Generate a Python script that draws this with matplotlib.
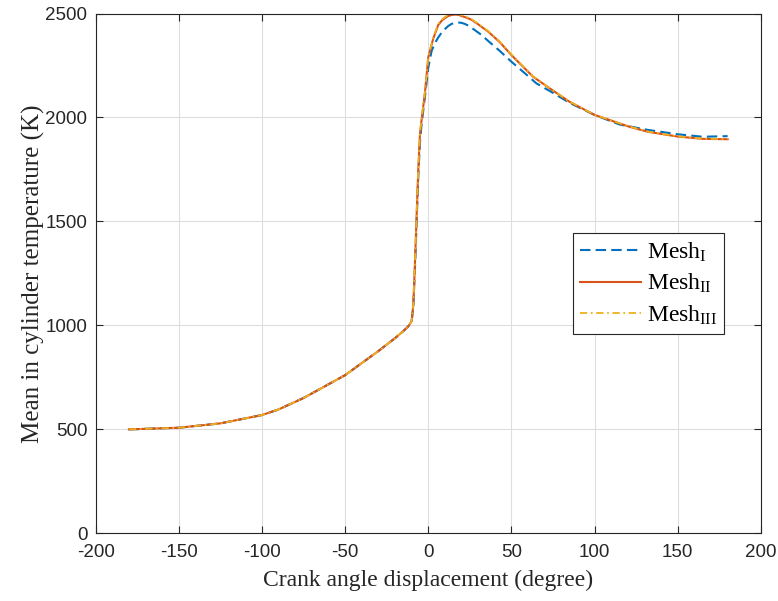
import matplotlib
matplotlib.use("Agg")
import matplotlib.pyplot as plt

# --- data ---
angle_1 = [-180, -150, -125, -100, -90, -75, -50, -30, -20, -15, -12, -10, -9, -8, -7, -6, -5, -4,
           -2, 0, 2, 4, 6, 8, 10, 12, 14, 16, 18, 20, 22, 25, 28, 32, 36, 43, 50, 57, 65, 75, 85, 100,
           115, 132, 150, 165, 180]
temp_1 = [499, 507, 528, 568, 595, 650, 760, 876, 938, 972, 995, 1020, 1090, 1280, 1500, 1720, 1880, 1970,
          2100, 2240, 2320, 2358, 2385, 2408, 2425, 2440, 2450, 2455, 2457, 2455, 2450, 2438, 2420, 2397,
          2368, 2320, 2268, 2220, 2164, 2118, 2070, 2012, 1966, 1940, 1919, 1907, 1910]

angle_2 = [-180, -150, -125, -100, -90, -75, -50, -30, -20, -15, -12, -10, -9, -8, -7, -6, -5, -4,
           -2, 0, 3, 6, 8, 10, 12, 14, 16, 18, 20, 23, 26, 30, 36, 43, 50, 57, 63, 73, 85, 100, 121,
           132, 150, 165, 180]
temp_2 = [499, 507, 528, 568, 595, 650, 760, 876, 938, 972, 995, 1020, 1100, 1300, 1530, 1750, 1920, 1990,
          2120, 2290, 2380, 2445, 2465, 2478, 2488, 2493, 2495, 2494, 2488, 2480, 2470, 2448, 2413, 2362,
          2300, 2244, 2196, 2140, 2075, 2012, 1955, 1931, 1908, 1897, 1895]

angle_3 = [-180, -150, -125, -100, -90, -75, -50, -30, -20, -15, -12, -10, -9, -8, -7, -6, -5, -4,
           -2, 0, 3, 6, 8, 10, 12, 14, 16, 18, 20, 23, 26, 30, 36, 43, 50, 57, 63, 73, 85, 100, 121,
           132, 150, 165, 180]
temp_3 = [499, 507, 528, 568, 595, 650, 760, 876, 938, 972, 995, 1020, 1105, 1310, 1540, 1760, 1925, 1995,
          2125, 2295, 2385, 2450, 2470, 2483, 2493, 2498, 2500, 2498, 2492, 2483, 2473, 2451, 2416, 2365,
          2303, 2246, 2198, 2141, 2076, 2013, 1956, 1932, 1909, 1898, 1896]

labels = ["Mesh$_{\\mathrm{I}}$", "Mesh$_{\\mathrm{II}}$", "Mesh$_{\\mathrm{III}}$"]

plt.rcParams["mathtext.fontset"] = "custom"
plt.rcParams["mathtext.rm"] = "Liberation Serif"
plt.rcParams["mathtext.it"] = "Liberation Serif:italic"
plt.rcParams["axes.unicode_minus"] = False

fig = plt.figure(figsize=(7.78, 6.01), dpi=100)
ax = fig.add_axes([0.123, 0.113, 0.855, 0.8645])

ax.plot(angle_1, temp_1, color="#0072BD", lw=1.5, ls=(0, (5, 2.5)), label=labels[0])
ax.plot(angle_2, temp_2, color="#D95319", lw=1.5, ls="-", label=labels[1])
ax.plot(angle_3, temp_3, color="#EDB120", lw=1.3, ls=(0, (4, 2, 1, 2)), label=labels[2])

ax.set_xlim(-200, 200)
ax.set_ylim(0, 2500)
ax.set_xticks(range(-200, 201, 50))
ax.set_yticks(range(0, 2501, 500))
ax.grid(True, color="#dedede", lw=0.8)
ax.set_axisbelow(True)
ax.tick_params(direction="in", top=True, right=True, length=5, width=0.8,
               colors="#262626", labelsize=13.5)
ax.tick_params(axis="x", pad=8)
ax.tick_params(axis="y", pad=6)
for lbl in ax.get_xticklabels() + ax.get_yticklabels():
    lbl.set_family("Liberation Sans")
for sp in ax.spines.values():
    sp.set_color("#262626")
    sp.set_linewidth(0.8)

ax.set_xlabel("Crank angle displacement (degree)", family="Liberation Serif", fontsize=17,
              color="#262626", labelpad=6)
ax.set_ylabel("Mean in cylinder temperature (K)", family="Liberation Serif", fontsize=18,
              color="#262626", labelpad=0)

leg = ax.legend(loc="lower left", bbox_to_anchor=(0.717, 0.383), borderaxespad=0,
                prop={"family": "Liberation Serif", "size": 17}, fancybox=False,
                edgecolor="#262626", handlelength=2.6, labelspacing=0.35, borderpad=0.3,
                handletextpad=0.25)
leg.get_frame().set_linewidth(0.8)
leg.get_frame().set_alpha(1)

fig.savefig("out.png", dpi=100)
